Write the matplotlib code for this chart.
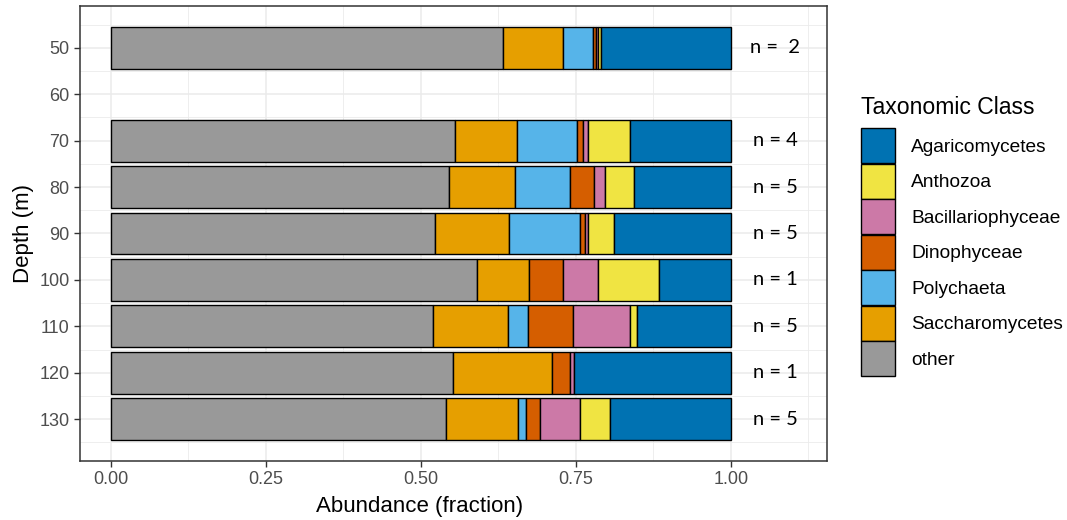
import matplotlib.pyplot as plt
from matplotlib.patches import Patch
import numpy as np

plt.rcParams['font.family'] = ['Liberation Sans', 'DejaVu Sans']

depths = [50, 70, 80, 90, 100, 110, 120, 130]

# fractions per class, stacked from left (other) to right (Agaricomycetes)
other = [0.632, 0.555, 0.545, 0.523, 0.590, 0.520, 0.551, 0.540]
saccharomycetes = [0.098, 0.100, 0.107, 0.119, 0.085, 0.120, 0.161, 0.117]
polychaeta = [0.048, 0.097, 0.088, 0.114, 0.000, 0.032, 0.000, 0.013]
dinophyceae = [0.004, 0.010, 0.039, 0.009, 0.055, 0.073, 0.028, 0.022]
bacillariophyceae = [0.003, 0.007, 0.018, 0.004, 0.056, 0.092, 0.007, 0.065]
anthozoa = [0.006, 0.068, 0.047, 0.043, 0.098, 0.012, 0.000, 0.048]
agaricomycetes = [0.209, 0.163, 0.156, 0.188, 0.116, 0.151, 0.253, 0.195]

n_labels = ['n =  2', 'n = 4', 'n = 5', 'n = 5', 'n = 1', 'n = 5', 'n = 1', 'n = 5']

classes = ['other', 'Saccharomycetes', 'Polychaeta', 'Dinophyceae',
           'Bacillariophyceae', 'Anthozoa', 'Agaricomycetes']
values = [other, saccharomycetes, polychaeta, dinophyceae,
          bacillariophyceae, anthozoa, agaricomycetes]
colors = ['#999999', '#E69F00', '#56B4E9', '#D55E00', '#CC79A7', '#F0E442', '#0072B2']

fig = plt.figure(figsize=(10.67, 5.2), dpi=100)
ax = fig.add_axes([0.075, 0.1135, 0.7, 0.875])

y = np.array(depths, dtype=float)
left = np.zeros(len(depths))
for name, vals, c in zip(classes, values, colors):
    vals = np.array(vals)
    m = vals > 0
    ax.barh(y[m], vals[m], left=left[m], height=9, color=c,
            edgecolor='black', linewidth=1.0, zorder=3)
    left += vals

for d, lab in zip(depths, n_labels):
    ax.text(1.072, d, lab, ha='center', va='center', fontsize=14.5,
            family=['Lato', 'DejaVu Sans'], color='black', zorder=4)

ax.set_xlim(-0.05, 1.155)
ax.set_ylim(139, 41)
ax.set_xticks([0, 0.25, 0.5, 0.75, 1.0])
ax.set_xticklabels(['0.00', '0.25', '0.50', '0.75', '1.00'])
ax.set_xticks([0.125, 0.375, 0.625, 0.875, 1.125], minor=True)
ax.set_yticks(np.arange(50, 131, 10))
ax.set_yticks(np.arange(45, 140, 10), minor=True)
ax.grid(which='major', color='#EBEBEB', linewidth=1.1, zorder=0)
ax.grid(which='minor', color='#EBEBEB', linewidth=0.6, zorder=0)
ax.set_axisbelow(True)
ax.tick_params(which='major', length=4, width=1, color='#333333',
               labelcolor='#4D4D4D', labelsize=13)
ax.tick_params(which='minor', length=0)
for s in ax.spines.values():
    s.set_color('#333333')
    s.set_linewidth(1.1)

ax.set_xlabel('Abundance (fraction)', fontsize=16)
ax.xaxis.set_label_coords(0.455, -0.077, transform=ax.transAxes)
ax.xaxis.label.set_va('top')
ax.set_ylabel('Depth (m)', fontsize=16, labelpad=4)

handles = [Patch(facecolor=c, edgecolor='black', linewidth=1.0)
           for c in colors[::-1]]
leg = fig.legend(handles, classes[::-1], loc='upper left',
                 bbox_to_anchor=(0.807, 0.816), frameon=False,
                 fontsize=13.8, title='Taxonomic Class', title_fontsize=16.6,
                 handlelength=1.75, handleheight=2.41, labelspacing=0.04,
                 handletextpad=0.85, borderpad=0, borderaxespad=0)
leg._legend_box.align = 'left'
leg._legend_box.sep = 7

fig.savefig('out.png', dpi=100)
